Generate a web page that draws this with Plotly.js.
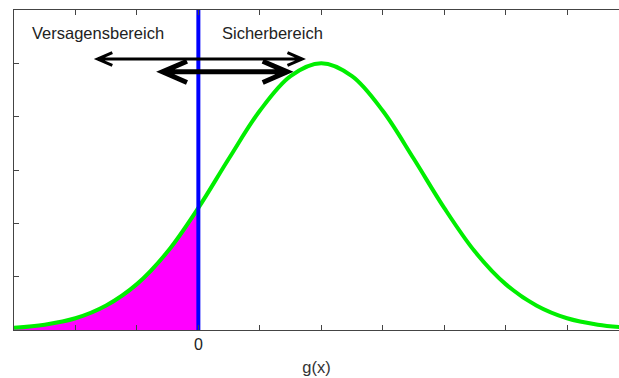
<!DOCTYPE html>
<html>
<head>
<meta charset="utf-8">
<script src="https://cdn.plot.ly/plotly-3.0.1.min.js"></script>
<style>
  html, body { margin: 0; padding: 0; background: #fff; }
  #chart { width: 619px; height: 378px; }
</style>
</head>
<body>
<div id="chart"></div>
<script>
// Density of the limit-state function g(x)
const gValues = [-3, -2.5, -2, -1.5, -1, -0.5, 0, 0.5, 1, 1.5, 2, 2.5, 3, 3.5, 4, 4.5, 5, 5.5, 6, 6.5, 7];
const density = [0.04, 0.10, 0.22, 0.46, 0.86, 1.47, 2.29, 3.22, 4.11, 4.76, 5.00, 4.76, 4.11, 3.22, 2.29, 1.47, 0.86, 0.46, 0.22, 0.10, 0.04];

// Limit state g(x) = 0 separates failure and safe regions
const limitState = 0;
const xTicks = [-3, -2, -1, 0, 1, 2, 3, 4, 5, 6];
const xTickText = ['', '', '', '0', '', '', '', '', '', ''];
const yTicks = [1, 2, 3, 4, 5];
const regionLabels = ['Versagensbereich', 'Sicherbereich'];

// failure part of the density (g <= 0)
const failX = [], failY = [];
gValues.forEach((g, i) => { if (g <= limitState) { failX.push(g); failY.push(density[i]); } });

const traces = [
  {
    x: failX, y: failY, type: 'scatter', mode: 'lines',
    line: { width: 0, shape: 'spline', color: '#ff00ff' },
    fill: 'tozeroy', fillcolor: '#ff00ff', hoverinfo: 'skip'
  },
  {
    x: gValues, y: density, type: 'scatter', mode: 'lines',
    line: { color: '#00ee00', width: 4, shape: 'spline' }, hoverinfo: 'skip'
  },
  {
    x: [limitState, limitState], y: [0, 6], type: 'scatter', mode: 'lines',
    line: { color: '#0000ff', width: 4 }, hoverinfo: 'skip'
  }
];

// double-headed arrows drawn as open chevrons
function arrow(x0, x1, y, head, spread, width) {
  const d = 'M' + x0 + ',' + y + ' L' + x1 + ',' + y +
    ' M' + (x0 + head) + ',' + (y + spread) + ' L' + x0 + ',' + y + ' L' + (x0 + head) + ',' + (y - spread) +
    ' M' + (x1 - head) + ',' + (y + spread) + ' L' + x1 + ',' + y + ' L' + (x1 - head) + ',' + (y - spread);
  return { type: 'path', xref: 'x', yref: 'y', path: d, line: { color: '#000', width: width } };
}

const layout = {
  width: 619, height: 378,
  margin: { l: 14, r: 0, t: 10, b: 48 },
  paper_bgcolor: '#fff', plot_bgcolor: '#fff',
  showlegend: false,
  font: { family: 'Liberation Sans, Arial, sans-serif', color: '#222' },
  xaxis: {
    range: [-3, 6.845], showgrid: false, zeroline: false,
    showline: true, linecolor: '#444', linewidth: 1, mirror: 'ticks',
    ticks: 'inside', ticklen: 5, tickcolor: '#444',
    tickvals: xTicks, ticktext: xTickText,
    tickfont: { size: 16, color: '#222' },
    title: { text: 'g(x)', font: { size: 16.5, color: '#333' }, standoff: 9 }
  },
  yaxis: {
    range: [0, 6], showgrid: false, zeroline: false,
    showline: true, linecolor: '#444', linewidth: 1,
    ticks: 'inside', ticklen: 5, tickcolor: '#444',
    tickvals: yTicks, showticklabels: false
  },
  shapes: [
    arrow(-1.64, 1.69, 5.08, 0.24, 0.12, 3),
    arrow(-0.585, 1.447, 4.84, 0.4, 0.2, 5)
  ],
  annotations: [
    { x: -1.626, y: 5.57, xref: 'x', yref: 'y', text: regionLabels[0], showarrow: false,
      yanchor: 'middle', font: { size: 16.5, color: '#222' } },
    { x: 1.203, y: 5.57, xref: 'x', yref: 'y', text: regionLabels[1], showarrow: false,
      yanchor: 'middle', font: { size: 16.5, color: '#222' } }
  ]
};

Plotly.newPlot('chart', traces, layout, { displayModeBar: false, staticPlot: true });
</script>
</body>
</html>
